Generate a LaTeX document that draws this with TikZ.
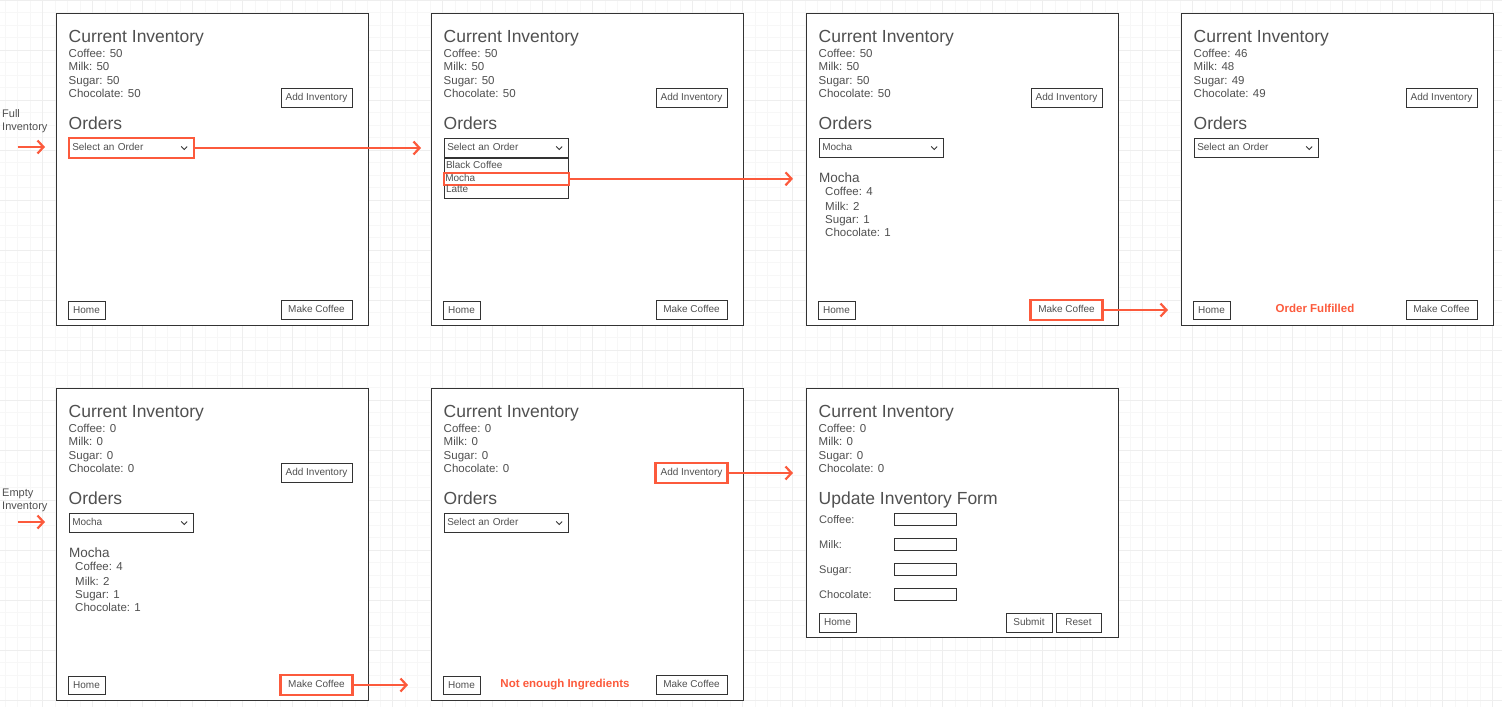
\documentclass[tikz,border=0pt]{standalone}
\usepackage{fontspec}
\setmainfont{Liberation Sans}
\usetikzlibrary{positioning,arrows.meta}

\definecolor{inkline}{RGB}{51,51,51}
\definecolor{inktext}{RGB}{80,80,80}
\definecolor{accent}{RGB}{252,90,60}
\definecolor{gridminor}{RGB}{247,247,247}
\definecolor{gridmajor}{RGB}{238,238,238}

\begin{document}
\begin{tikzpicture}[x=1pt, y=-1pt,
  screen/.style={draw=inkline, line width=1pt, fill=white, anchor=north west,
    minimum width=312pt, inner sep=0pt},
  heading/.style={font=\fontsize{17.5}{21}\selectfont, text=inktext, anchor=base west, inner sep=0pt},
  subhead/.style={font=\fontsize{13.5}{16}\selectfont, text=inktext, anchor=base west, inner sep=0pt},
  entry/.style={font=\fontsize{11.5}{13}\selectfont, text=inktext, anchor=base west, inner sep=0pt},
  side/.style={font=\fontsize{11}{13.4}\selectfont, text=inktext, align=left, anchor=west, inner sep=0pt},
  button/.style={draw=inkline, line width=0.9pt, fill=white, font=\fontsize{10}{12}\selectfont,
    text=inktext, minimum height=18.5pt, inner sep=0pt, text height=7.3pt, text depth=1.8pt},
  dropdown/.style={button, inner xsep=3pt, text width=118.5pt, align=left},
  option/.style={font=\fontsize{10}{12}\selectfont, text=inktext, anchor=west, inner sep=0pt,
    text height=7.3pt, text depth=1.8pt},
  field/.style={draw=inkline, line width=0.9pt, minimum width=62pt, minimum height=12pt, inner sep=0pt},
  status/.style={font=\bfseries\fontsize{11.5}{13}\selectfont, text=accent, inner sep=0pt,
    text height=8.2pt, text depth=2.3pt},
  hot/.style={draw=accent, line width=2.2pt},
  flow/.style={draw=accent, line width=2.2pt, -{Straight Barb[length=6pt, width=13pt]}}]

  \useasboundingbox (0,0) rectangle (1502,707);

  % background grid
  \foreach \gx in {5,17.5,...,1502} {\draw[gridminor, line width=1pt] (\gx,0) -- (\gx,707);}
  \foreach \gy in {0,12.5,...,707} {\draw[gridminor, line width=1pt] (0,\gy) -- (1502,\gy);}
  \foreach \gx in {42.5,92.5,...,1502} {\draw[gridmajor, line width=1pt] (\gx,0) -- (\gx,707);}
  \foreach \gy in {0,50,...,707} {\draw[gridmajor, line width=1pt] (0,\gy) -- (1502,\gy);}

  % screens with the current inventory
  \foreach \p/\px/\py/\hgt/\qa/\qb/\qc/\qd in {1/56/13/312/50/50/50/50, 2/431/13/312/50/50/50/50,
      3/806/13/312/50/50/50/50, 4/1181/13/312/46/48/49/49, 5/56/388/312/0/0/0/0,
      6/431/388/312/0/0/0/0, 7/806/388/249/0/0/0/0} {
    \begin{scope}[shift={(\px,\py)}]
    \node[screen, minimum height=\hgt pt] (p\p) at (0,0) {};
    \node[heading] (p\p-title) at (12.5,29.7) {Current Inventory};
    \node[entry] (p\p-coffee) at (12.5,44.3) {Coffee: \qa};
    \node[entry] (p\p-milk) at (12.5,57.7) {Milk: \qb};
    \node[entry] (p\p-sugar) at (12.5,71) {Sugar: \qc};
    \node[entry] (p\p-choc) at (12.5,84.3) {Chocolate: \qd};
    \end{scope}
  }

  % order screens
  \foreach \p/\sel in {1/Select an Order, 2/Select an Order, 3/Mocha, 4/Select an Order,
      5/Mocha, 6/Select an Order} {
    \node[button, minimum width=71pt] (p\p-add) at ([shift={(260.5,85)}]p\p.north west) {Add Inventory};
    \node[heading] (p\p-orders) at ([shift={(12.5,116.3)}]p\p.north west) {Orders};
    \node[dropdown] (p\p-drop) at ([shift={(75.5,135)}]p\p.north west) {\sel};
    \draw[inkline, line width=0.8pt] ([xshift=-13pt,yshift=1.5pt]p\p-drop.east) -- ++(3,3) -- ++(3,-3);
    \node[button, minimum width=37pt] (p\p-home) at ([shift={(30.5,297.5)}]p\p.north west) {Home};
    \node[button, minimum width=71pt] (p\p-make) at ([shift={(260.5,297)}]p\p.north west) {Make Coffee};
  }

  % open order list
  \node[draw=inkline, line width=0.9pt, fill=white, minimum width=124.5pt, minimum height=40pt,
    inner sep=0pt, below=0pt of p2-drop] (p2-list) {};
  \node[option] (p2-black) at ([shift={(2,8.5)}]p2-list.north west) {Black Coffee};
  \node[option, hot, minimum width=124.5pt, text width=122.5pt, inner xsep=1pt, align=left,
    minimum height=12pt, anchor=north] (p2-mocha) at ([yshift=-14pt]p2-list.north) {Mocha};
  \node[option] (p2-latte) at ([shift={(2,32)}]p2-list.north west) {Latte};

  % recipe
  \foreach \p in {3,5} {
    \node[subhead] (p\p-recipe) at ([shift={(13,169.7)}]p\p.north west) {Mocha};
    \node[entry] (p\p-rcoffee) at ([shift={(19,182.7)}]p\p.north west) {Coffee: 4};
    \node[entry] (p\p-rmilk) at ([shift={(19,197)}]p\p.north west) {Milk: 2};
    \node[entry] (p\p-rsugar) at ([shift={(19,210.3)}]p\p.north west) {Sugar: 1};
    \node[entry] (p\p-rchoc) at ([shift={(19,223.7)}]p\p.north west) {Chocolate: 1};
  }

  \node[status] (p4-done) at ([shift={(134,296.5)}]p4.north west) {Order Fulfilled};
  \node[status] (p6-short) at ([shift={(134,296.5)}]p6.north west) {Not enough Ingredients};

  % inventory form
  \node[heading] (p7-form) at ([shift={(12.5,116.3)}]p7.north west) {Update Inventory Form};
  \foreach \i/\lab/\yy in {1/Coffee:/131, 2/Milk:/156, 3/Sugar:/181, 4/Chocolate:/206} {
    \node[entry, font=\fontsize{11}{13}\selectfont] (p7-lab\i) at ([shift={(13,\yy+4)}]p7.north west) {\lab};
    \node[field] (p7-box\i) at ([shift={(119,\yy)}]p7.north west) {};
  }
  \node[button, minimum width=37pt] (p7-home) at ([shift={(31.5,235)}]p7.north west) {Home};
  \node[button, minimum width=46pt] (p7-submit) at ([shift={(223,235)}]p7.north west) {Submit};
  \node[button, minimum width=45pt] (p7-reset) at ([shift={(272.5,235)}]p7.north west) {Reset};

  % highlighted controls
  \draw[hot] (p1-drop.south west) rectangle (p1-drop.north east);
  \draw[hot] (p3-make.south west) rectangle (p3-make.north east);
  \draw[hot] (p5-make.south west) rectangle (p5-make.north east);
  \draw[hot] (p6-add.south west) rectangle (p6-add.north east);

  % entry points
  \node[side] (full-label) at (2,121.2) {Full\\Inventory};
  \node[side] (empty-label) at (2,500.5) {Empty\\Inventory};
  \coordinate (full-start) at (17.5,147);
  \coordinate (full-end) at (45,147);
  \coordinate (empty-start) at (17.5,522);
  \coordinate (empty-end) at (45,522);

  % transitions
  \draw[flow] (full-start) -- (full-end);
  \draw[flow] (empty-start) -- (empty-end);
  \draw[flow, shorten >=10pt] (p1-drop.east) -- (p1-drop.east -| p2.west);
  \draw[flow, shorten >=13pt] (p2-mocha.east) -- (p2-mocha.east -| p3.west);
  \draw[flow, shorten >=13pt] (p3-make.east) -- (p3-make.east -| p4.west);
  \draw[flow, shorten >=23pt] (p5-make.east) -- (p5-make.east -| p6.west);
  \draw[flow, shorten >=13pt] (p6-add.east) -- (p6-add.east -| p7.west);

\end{tikzpicture}
\end{document}
